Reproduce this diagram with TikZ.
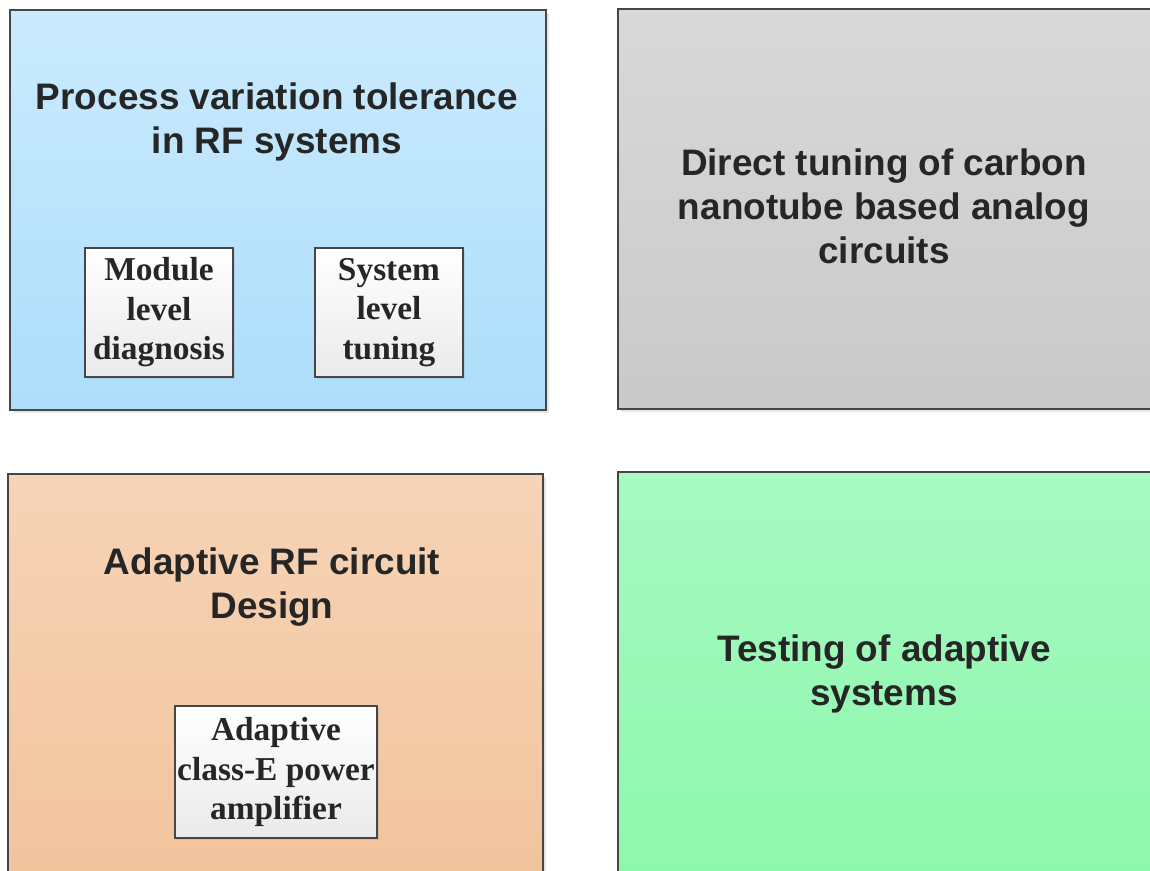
\documentclass[tikz,border=0pt]{standalone}
\usepackage{fontspec}
\setmainfont{Liberation Serif}
\newfontfamily\headfont{Liberation Sans}
\usetikzlibrary{shadows}

\definecolor{framegray}{HTML}{464646}
\definecolor{txtgray}{HTML}{262626}
\definecolor{blueTop}{HTML}{CAEAFD}
\definecolor{blueBot}{HTML}{ADDEFB}
\definecolor{grayTop}{HTML}{D9D9D9}
\definecolor{grayBot}{HTML}{C9C9C9}
\definecolor{peachTop}{HTML}{F6D4B7}
\definecolor{peachBot}{HTML}{F1C39C}
\definecolor{greenTop}{HTML}{A8F9C3}
\definecolor{greenBot}{HTML}{8CF8AB}
\definecolor{boxBot}{HTML}{EAEAEA}

\tikzset{
    area/.style={draw=framegray, line width=1.3pt, rectangle, anchor=north west, inner sep=0pt,
        drop shadow={shadow xshift=1.5pt, shadow yshift=-1.5pt, opacity=0.2}},
    subbox/.style={draw=framegray, line width=1.1pt, rectangle, inner sep=0pt,
        top color=white, bottom color=boxBot, text=txtgray, align=center,
        font=\fontsize{19}{22.5}\selectfont\bfseries,
        execute at begin node={\rule{0pt}{17pt}},
        drop shadow={shadow xshift=1.2pt, shadow yshift=-1.2pt, opacity=0.2}},
    headtext/.style={text=txtgray, align=center, font=\headfont\fontsize{21}{25}\selectfont\bfseries},
}

\begin{document}
\begin{tikzpicture}

    \useasboundingbox (0, 0) rectangle (23, -17.42);
    \clip (0, 0) rectangle (23, -17.42);

    % four areas
    \node[area, top color=blueTop, bottom color=blueBot, minimum width=10.72cm, minimum height=8cm] (rfarea) at (0.18, -0.18) {};
    \node[area, top color=grayTop, bottom color=grayBot, minimum width=11cm, minimum height=8cm] (cntarea) at (12.34, -0.16) {};
    \node[area, top color=peachTop, bottom color=peachBot, minimum width=10.70cm, minimum height=8.3cm] (adaptarea) at (0.14, -9.46) {};
    \node[area, top color=greenTop, bottom color=greenBot, minimum width=11cm, minimum height=8.3cm] (testarea) at (12.34, -9.42) {};

    % titles
    \node[headtext] (rftitle) at (5.54, -2.44) {Process variation tolerance\\in RF systems};
    \node[headtext] (cnttitle) at (17.68, -4.13) {Direct tuning of carbon\\nanotube based analog\\circuits};
    \node[headtext] (adapttitle) at (5.44, -11.74) {Adaptive RF circuit\\Design};
    \node[headtext] (testtitle) at (17.68, -13.48) {Testing of adaptive\\systems};

    % inner boxes
    \node[subbox, minimum width=2.96cm, minimum height=2.58cm] (module) at (3.18, -6.25) {Module\\level\\diagnosis};
    \node[subbox, minimum width=2.96cm, minimum height=2.58cm] (system) at (7.78, -6.25) {System\\level\\tuning};
    \node[subbox, minimum width=4.04cm, minimum height=2.64cm] (classe) at (5.52, -15.44) {Adaptive\\class-E power\\amplifier};

\end{tikzpicture}
\end{document}
